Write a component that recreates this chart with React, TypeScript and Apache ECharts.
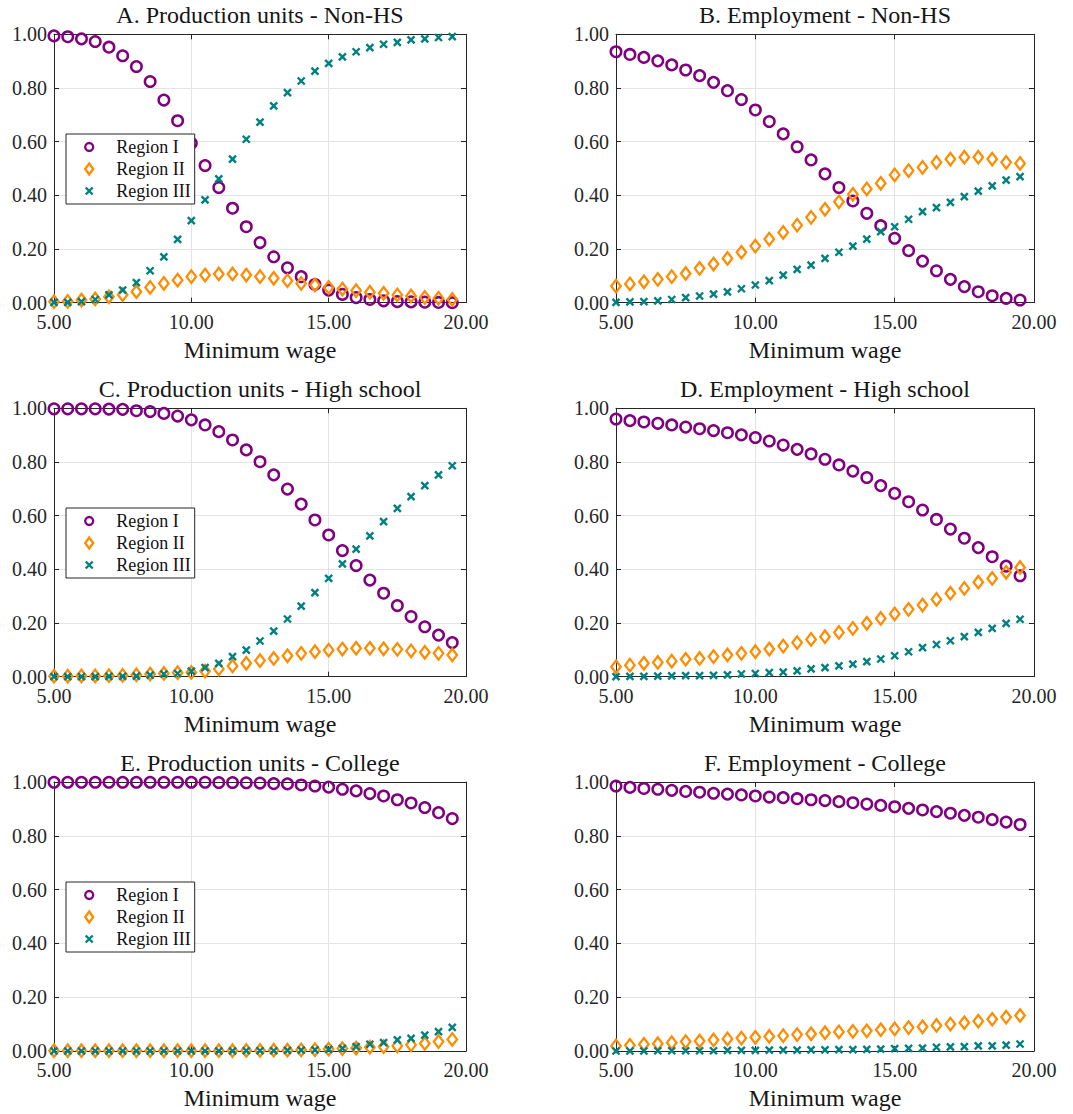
import React, { useEffect, useRef } from "react";
import * as echarts from "echarts";

// ---------- data ----------
const wages = [5, 5.5, 6, 6.5, 7, 7.5, 8, 8.5, 9, 9.5, 10, 10.5, 11, 11.5, 12, 12.5, 13, 13.5, 14, 14.5, 15, 15.5, 16, 16.5, 17, 17.5, 18, 18.5, 19, 19.5];

const seriesNames = ["Region I", "Region II", "Region III"];

const panelTitles = [
  "A. Production units - Non-HS",
  "B. Employment - Non-HS",
  "C. Production units - High school",
  "D. Employment - High school",
  "E. Production units - College",
  "F. Employment - College",
];

const xAxisTitle = "Minimum wage";

// A. Production units - Non-HS
const prodNonHS_I = [0.994, 0.991, 0.983, 0.973, 0.952, 0.920, 0.880, 0.824, 0.755, 0.678, 0.594, 0.511, 0.429, 0.352, 0.283, 0.224, 0.171, 0.130, 0.097, 0.068, 0.047, 0.031, 0.019, 0.012, 0.007, 0.004, 0.003, 0.002, 0.001, 0.000];
const prodNonHS_II = [0.004, 0.005, 0.010, 0.014, 0.022, 0.030, 0.041, 0.057, 0.072, 0.084, 0.097, 0.103, 0.107, 0.107, 0.103, 0.097, 0.091, 0.082, 0.072, 0.066, 0.057, 0.051, 0.045, 0.039, 0.035, 0.029, 0.025, 0.020, 0.017, 0.012];
const prodNonHS_III = [0.001, 0.001, 0.004, 0.012, 0.029, 0.047, 0.075, 0.119, 0.171, 0.236, 0.306, 0.383, 0.461, 0.535, 0.609, 0.673, 0.733, 0.783, 0.826, 0.863, 0.892, 0.916, 0.935, 0.950, 0.963, 0.970, 0.979, 0.983, 0.988, 0.991];

// B. Employment - Non-HS
const empNonHS_I = [0.935, 0.925, 0.914, 0.901, 0.886, 0.867, 0.846, 0.821, 0.790, 0.757, 0.718, 0.675, 0.629, 0.581, 0.532, 0.480, 0.429, 0.379, 0.333, 0.287, 0.240, 0.194, 0.155, 0.119, 0.087, 0.060, 0.041, 0.026, 0.016, 0.010];
const empNonHS_II = [0.062, 0.070, 0.078, 0.087, 0.097, 0.109, 0.128, 0.144, 0.165, 0.188, 0.211, 0.237, 0.262, 0.289, 0.318, 0.348, 0.376, 0.404, 0.424, 0.445, 0.476, 0.492, 0.504, 0.523, 0.535, 0.542, 0.542, 0.535, 0.523, 0.519];
const empNonHS_III = [0.001, 0.003, 0.004, 0.007, 0.012, 0.019, 0.025, 0.032, 0.040, 0.052, 0.066, 0.082, 0.103, 0.124, 0.140, 0.165, 0.188, 0.211, 0.237, 0.265, 0.283, 0.311, 0.339, 0.354, 0.374, 0.395, 0.416, 0.435, 0.457, 0.470];

// C. Production units - High school
const prodHS_I = [0.998, 0.998, 0.998, 0.998, 0.997, 0.996, 0.991, 0.988, 0.981, 0.971, 0.957, 0.938, 0.913, 0.882, 0.845, 0.801, 0.752, 0.699, 0.643, 0.584, 0.528, 0.470, 0.414, 0.360, 0.311, 0.265, 0.224, 0.186, 0.155, 0.127];
const prodHS_II = [0.002, 0.002, 0.003, 0.003, 0.004, 0.005, 0.007, 0.010, 0.012, 0.015, 0.016, 0.021, 0.029, 0.040, 0.050, 0.060, 0.068, 0.078, 0.087, 0.093, 0.099, 0.103, 0.106, 0.106, 0.104, 0.102, 0.096, 0.091, 0.087, 0.081];
const prodHS_III = [0.000, 0.000, 0.000, 0.000, 0.001, 0.001, 0.002, 0.006, 0.010, 0.012, 0.021, 0.034, 0.050, 0.075, 0.099, 0.133, 0.170, 0.215, 0.263, 0.313, 0.366, 0.420, 0.475, 0.525, 0.578, 0.627, 0.671, 0.712, 0.752, 0.786];

// D. Employment - High school
const empHS_I = [0.960, 0.954, 0.949, 0.944, 0.938, 0.930, 0.924, 0.917, 0.909, 0.901, 0.891, 0.878, 0.863, 0.847, 0.830, 0.810, 0.789, 0.766, 0.742, 0.712, 0.683, 0.652, 0.621, 0.586, 0.550, 0.516, 0.481, 0.447, 0.412, 0.376];
const empHS_II = [0.037, 0.043, 0.050, 0.053, 0.058, 0.065, 0.068, 0.075, 0.081, 0.087, 0.093, 0.103, 0.114, 0.127, 0.139, 0.149, 0.165, 0.180, 0.199, 0.217, 0.234, 0.251, 0.267, 0.288, 0.311, 0.329, 0.352, 0.366, 0.389, 0.407];
const empHS_III = [0.000, 0.001, 0.001, 0.002, 0.003, 0.004, 0.004, 0.005, 0.007, 0.010, 0.012, 0.015, 0.017, 0.022, 0.029, 0.034, 0.040, 0.047, 0.056, 0.066, 0.078, 0.093, 0.108, 0.120, 0.134, 0.149, 0.165, 0.180, 0.199, 0.214];

// E. Production units - College
const prodCol_I = [0.999, 0.999, 0.999, 0.999, 0.999, 0.999, 0.999, 0.999, 0.999, 0.999, 0.999, 0.999, 0.998, 0.998, 0.997, 0.996, 0.994, 0.993, 0.989, 0.985, 0.981, 0.973, 0.967, 0.957, 0.948, 0.934, 0.922, 0.905, 0.886, 0.864];
const prodCol_II = [0.001, 0.001, 0.001, 0.001, 0.001, 0.001, 0.001, 0.001, 0.001, 0.001, 0.001, 0.001, 0.001, 0.001, 0.002, 0.002, 0.003, 0.003, 0.004, 0.005, 0.007, 0.009, 0.011, 0.014, 0.016, 0.019, 0.023, 0.028, 0.035, 0.043];
const prodCol_III = [0.000, 0.000, 0.000, 0.000, 0.000, 0.000, 0.000, 0.000, 0.000, 0.000, 0.000, 0.000, 0.000, 0.000, 0.001, 0.001, 0.001, 0.002, 0.003, 0.004, 0.006, 0.010, 0.016, 0.025, 0.031, 0.041, 0.047, 0.059, 0.072, 0.088];

// F. Employment - College
const empCol_I = [0.985, 0.980, 0.976, 0.973, 0.969, 0.965, 0.962, 0.958, 0.955, 0.952, 0.948, 0.944, 0.942, 0.938, 0.934, 0.931, 0.927, 0.923, 0.918, 0.913, 0.908, 0.902, 0.896, 0.890, 0.884, 0.876, 0.869, 0.860, 0.851, 0.842];
const empCol_II = [0.019, 0.021, 0.025, 0.027, 0.031, 0.035, 0.037, 0.041, 0.045, 0.048, 0.051, 0.054, 0.057, 0.061, 0.064, 0.068, 0.071, 0.073, 0.075, 0.079, 0.082, 0.087, 0.090, 0.095, 0.100, 0.105, 0.111, 0.118, 0.126, 0.132];
const empCol_III = [0.000, 0.000, 0.000, 0.001, 0.001, 0.001, 0.001, 0.001, 0.002, 0.002, 0.002, 0.003, 0.003, 0.003, 0.004, 0.004, 0.005, 0.005, 0.006, 0.007, 0.009, 0.010, 0.011, 0.014, 0.015, 0.016, 0.019, 0.019, 0.022, 0.026];

const panelData = [
  [prodNonHS_I, prodNonHS_II, prodNonHS_III],
  [empNonHS_I, empNonHS_II, empNonHS_III],
  [prodHS_I, prodHS_II, prodHS_III],
  [empHS_I, empHS_II, empHS_III],
  [prodCol_I, prodCol_II, prodCol_III],
  [empCol_I, empCol_II, empCol_III],
];

// panels that carry a legend
const legendPanels = [0, 2, 4];

// ---------- layout / style ----------
const gridRects = [
  { left: 54, top: 34.3, width: 412, height: 268.4 },
  { left: 616, top: 34.3, width: 418, height: 268.4 },
  { left: 54, top: 408.3, width: 412, height: 268.4 },
  { left: 616, top: 408.3, width: 418, height: 268.4 },
  { left: 54, top: 782, width: 412, height: 269 },
  { left: 616, top: 782, width: 418, height: 269 },
];

const FONT = "Liberation Serif";
const AX = "#262626";
const GRIDC = "#e3e3e3";
const colors = ["#800080", "#ff8c00", "#008080"];
const crossPath = "path://M0,0L10,10M10,0L0,10";
const symbols = ["circle", "diamond", crossPath];
const symbolSizes: any[] = [10.5, [9.5, 12.5], 7];
const borderWidths = [2.5, 2.3, 2.4];
// legend icons: drawn in the left 12px of a 28x12 box (text starts 5px after the box)
const legendIcons = [
  "path://M0,0M28,12M6,2A4,4,0,1,1,5.99,2Z",
  "path://M0,0M28,12M6,0.5L10,6L6,11.5L2,6Z",
  "path://M0,0M28,12M2.5,2.5L9.5,9.5M9.5,2.5L2.5,9.5",
];
const legendTops = [134, 508, 882];

function buildOption() {
  const grid: any[] = [];
  const xAxis: any[] = [];
  const yAxis: any[] = [];
  const series: any[] = [];
  const legend: any[] = [];

  const lineCommon = { show: true, onZero: false, lineStyle: { color: AX, width: 1 } };
  const tickCommon = { show: true, inside: true, length: 5, lineStyle: { color: AX, width: 1 } };
  const tickStyle = { color: AX, fontFamily: FONT, fontSize: 20 };
  const nameStyle = { color: "#161616", fontFamily: FONT, fontSize: 24 };
  const fmt = (v: number) => v.toFixed(2);

  gridRects.forEach((r, i) => {
    grid.push({ ...r, containLabel: false, outerBoundsMode: "none" });
    xAxis.push({
      gridIndex: i,
      type: "value",
      position: "bottom",
      min: 5,
      max: 20,
      interval: 5,
      axisLine: lineCommon,
      axisTick: tickCommon,
      axisLabel: { margin: 9, ...tickStyle, formatter: fmt, showMinLabel: true, showMaxLabel: true },
      splitLine: { show: true, lineStyle: { color: GRIDC, width: 1 } },
      name: xAxisTitle,
      nameLocation: "middle",
      nameGap: 35,
      nameTextStyle: nameStyle,
    });
    xAxis.push({
      gridIndex: i,
      type: "value",
      position: "top",
      min: 5,
      max: 20,
      interval: 5,
      axisLine: lineCommon,
      axisTick: tickCommon,
      axisLabel: { show: false },
      splitLine: { show: false },
      name: panelTitles[i],
      nameLocation: "middle",
      nameGap: 7,
      nameTextStyle: nameStyle,
    });
    yAxis.push({
      gridIndex: i,
      type: "value",
      position: "left",
      min: 0,
      max: 1,
      interval: 0.2,
      axisLine: lineCommon,
      axisTick: tickCommon,
      axisLabel: { margin: 7, ...tickStyle, formatter: fmt, showMinLabel: true, showMaxLabel: true },
      splitLine: { show: true, lineStyle: { color: GRIDC, width: 1 } },
    });
    yAxis.push({
      gridIndex: i,
      type: "value",
      position: "right",
      min: 0,
      max: 1,
      interval: 0.2,
      axisLine: lineCommon,
      axisTick: tickCommon,
      axisLabel: { show: false },
      splitLine: { show: false },
    });

    panelData[i].forEach((vals, k) => {
      series.push({
        type: "scatter",
        name: seriesNames[k],
        xAxisIndex: 2 * i,
        yAxisIndex: 2 * i,
        data: wages.map((w, j) => [w, vals[j]]),
        symbol: symbols[k],
        symbolSize: symbolSizes[k],
        clip: false,
        itemStyle: {
          color: "rgba(0,0,0,0)",
          borderColor: colors[k],
          borderWidth: borderWidths[k],
          opacity: 1,
        },
        emphasis: { disabled: true },
      });
    });
  });

  legendPanels.forEach((p, li) => {
    legend.push({
      orient: "vertical",
      left: 66,
      top: legendTops[li],
      itemWidth: 28,
      itemHeight: 12,
      itemGap: 4,
      symbolKeepAspect: true,
      padding: [4, 4, 4, 16],
      borderColor: AX,
      borderWidth: 1,
      borderRadius: 0,
      backgroundColor: "#ffffff",
      selectedMode: false,
      textStyle: { fontFamily: FONT, fontSize: 18, color: "#111" },
      data: seriesNames.map((n, k) => ({
        name: n,
        icon: legendIcons[k],
        itemStyle: { color: "rgba(0,0,0,0)", borderColor: colors[k], borderWidth: k === 2 ? 2.4 : 2.3 },
      })),
    });
  });

  return {
    animation: false,
    backgroundColor: "#ffffff",
    textStyle: { fontFamily: FONT },
    grid,
    xAxis,
    yAxis,
    legend,
    series,
  };
}

export default function App() {
  const ref = useRef<HTMLDivElement>(null);
  useEffect(() => {
    if (!ref.current) return;
    const chart = echarts.init(ref.current, undefined, { renderer: "svg" });
    chart.setOption(buildOption() as any);
    return () => chart.dispose();
  }, []);
  return (
    <div
      ref={ref}
      style={{ position: "absolute", left: 0, top: 0, width: 1073, height: 1114, background: "#fff" }}
    />
  );
}
